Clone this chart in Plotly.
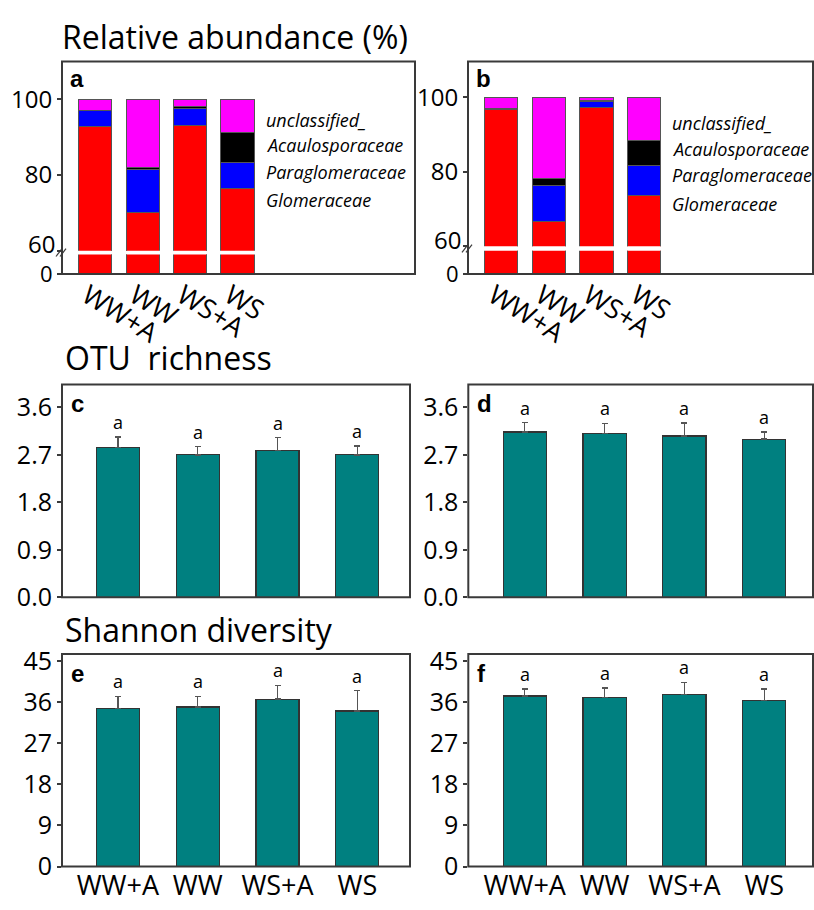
import plotly.graph_objects as go

W, H = 814, 910

# ---------------- data ----------------
groups = ["WW+A", "WW", "WS+A", "WS"]
families = ["Glomeraceae", "Paraglomeraceae", "Acaulosporaceae", "unclassified_"]
fam_colors = ["#FF0000", "#0000FF", "#000000", "#FF00FF"]

# relative abundance (%) panel a
abund_a_glom = [92.8, 70.2, 93.1, 76.5]
abund_a_para = [4.3, 11.3, 4.6, 6.8]
abund_a_acau = [0.0, 0.6, 0.5, 7.8]
abund_a_uncl = [2.9, 17.9, 1.8, 8.9]
# relative abundance (%) panel b
abund_b_glom = [96.8, 66.5, 97.3, 73.5]
abund_b_para = [0.0, 9.8, 1.5, 8.2]
abund_b_acau = [0.3, 2.0, 0.2, 6.7]
abund_b_uncl = [2.9, 21.7, 1.0, 11.6]

# OTU richness
otu_c_mean = [2.84, 2.70, 2.78, 2.70]
otu_c_err = [0.20, 0.155, 0.245, 0.165]
otu_d_mean = [3.13, 3.105, 3.057, 2.996]
otu_d_err = [0.18, 0.19, 0.25, 0.135]
otu_letters_c = ["a", "a", "a", "a"]
otu_letters_d = ["a", "a", "a", "a"]

# Shannon diversity
sh_e_mean = [34.7, 35.0, 36.7, 34.1]
sh_e_err = [2.6, 2.3, 3.0, 4.5]
sh_f_mean = [37.4, 37.1, 37.7, 36.4]
sh_f_err = [1.5, 2.0, 2.7, 2.5]
sh_letters_e = ["a", "a", "a", "a"]
sh_letters_f = ["a", "a", "a", "a"]

otu_ticks = [0, 0.9, 1.8, 2.7, 3.6]
sh_ticks = [0, 9, 18, 27, 36, 45]
abund_ticks_upper = [60, 80, 100]
abund_ticktext_upper = ["", "80", "100"]   # "60" is written separately, just above the break
abund_break_label = "60"
abund_ticks_lower = [0]

# ---------------- helpers ----------------
def fx(p):
    return p / W

def fy(p):
    return 1 - p / H

FONT = "Open Sans"
FRAME = "#3a3a3a"
TEAL = "#008080"

fig = go.Figure()

def axis_common(**kw):
    d = dict(showgrid=False, zeroline=False, showline=False,
             tickfont=dict(family=FONT, size=25, color="black"),
             ticks="outside", ticklen=4, tickcolor=FRAME, tickwidth=1.5)
    d.update(kw)
    return d

layout_axes = {}

def add_axes(n, xdom, ydom, xrange_, yrange_, xkw=None, ykw=None):
    xname = "xaxis" if n == 1 else f"xaxis{n}"
    yname = "yaxis" if n == 1 else f"yaxis{n}"
    ax = axis_common(domain=xdom, range=xrange_, anchor="y" if n == 1 else f"y{n}",
                     ticks="")
    ay = axis_common(domain=ydom, range=yrange_, anchor="x" if n == 1 else f"x{n}")
    if xkw:
        ax.update(xkw)
    if ykw:
        ay.update(ykw)
    layout_axes[xname] = ax
    layout_axes[yname] = ay

def ref(n):
    return ("x", "y") if n == 1 else (f"x{n}", f"y{n}")

shapes = []
annotations = []

def frame(x0, y0, x1, y1):
    shapes.append(dict(type="rect", xref="paper", yref="paper",
                       x0=fx(x0), x1=fx(x1), y0=fy(y1), y1=fy(y0),
                       line=dict(color=FRAME, width=2), fillcolor="rgba(0,0,0,0)", layer="above"))

def panel_letter(txt, x, y):
    annotations.append(dict(text=f"<b>{txt}</b>", xref="paper", yref="paper",
                            x=fx(x), y=fy(y), xanchor="left", yanchor="middle",
                            showarrow=False, font=dict(family="Liberation Sans", size=24, color="black")))

def title(txt, x, y):
    annotations.append(dict(text=txt, xref="paper", yref="paper",
                            x=fx(x), y=fy(y), xanchor="left", yanchor="middle",
                            showarrow=False, font=dict(family=FONT, size=32, color="black")))

def break_marks(x, y):
    for dx in (-3, 1):
        shapes.append(dict(type="line", xref="paper", yref="paper",
                           x0=fx(x + dx - 3), y0=fy(y + 4), x1=fx(x + dx + 3), y1=fy(y - 4),
                           line=dict(color=FRAME, width=1.2), layer="above"))

# ---------------- stacked panels a, b ----------------
def stacked_panel(n_up, n_lo, series, x0, x1, top, y60, gap_bot, bottom, xr, yr_top, letter):
    # upper
    add_axes(n_up, [fx(x0), fx(x1)], [fy(y60), fy(top)], xr, [60, yr_top],
             xkw=dict(showticklabels=False),
             ykw=dict(tickvals=abund_ticks_upper, ticktext=abund_ticktext_upper,
                      tickfont=dict(family=FONT, size=24, color="black")))
    # lower
    add_axes(n_lo, [fx(x0), fx(x1)], [fy(bottom), fy(gap_bot)], xr, [0, 60],
             xkw=dict(tickangle=32, ticklabelshift=-8,
                      tickfont=dict(family=FONT, size=27, color="black")),
             ykw=dict(tickvals=abund_ticks_lower,
                      tickfont=dict(family=FONT, size=22, color="black")))
    for n in (n_up, n_lo):
        xa, ya = ref(n)
        for name, vals, col in zip(families, series, fam_colors):
            fig.add_trace(go.Bar(x=groups, y=vals, name=name, marker=dict(color=col,
                                 line=dict(color="#555555", width=1)),
                                 width=0.70, xaxis=xa, yaxis=ya, showlegend=False))
    frame(x0, top, x1, bottom)
    break_marks(x0, (y60 + gap_bot) / 2)
    panel_letter(letter, x0 + 6, top + 18)
    # "60" label sitting just above the axis break
    annotations.append(dict(text=abund_break_label, xref="paper", yref="paper",
                            x=fx(x0 - 5), y=fy(y60 - 7), xanchor="right", yanchor="middle",
                            showarrow=False, font=dict(family=FONT, size=24, color="black")))

stacked_panel(1, 2, [abund_a_glom, abund_a_para, abund_a_acau, abund_a_uncl],
              62, 415, 52, 247, 251, 271, [-0.70, 6.74], 110, "a")
stacked_panel(3, 4, [abund_b_glom, abund_b_para, abund_b_acau, abund_b_uncl],
              468, 813, 52, 242.4, 247, 271, [-0.70, 6.55], 109.6, "b")

# family labels (legend-like text)
fam_label_order = ["unclassified_", "Acaulosporaceae", "Paraglomeraceae", "Glomeraceae"]
for xs, ys in ((264, [112, 138, 166, 195]), (670, [115, 142, 169, 199])):
    for t, yy in zip(fam_label_order, ys):
        annotations.append(dict(text=f"<i>{t}</i>", xref="paper", yref="paper",
                                x=fx(xs), y=fy(yy), xanchor="left", yanchor="middle",
                                showarrow=False, font=dict(family=FONT, size=18, color="black")))

# ---------------- bar panels c-f ----------------
def bar_panel(n, mean, err, letters, x0, x1, top, bottom, xr, yr, tickvals, fmt, letter, show_x):
    add_axes(n, [fx(x0), fx(x1)], [fy(bottom), fy(top)], xr, yr,
             xkw=dict(showticklabels=show_x, tickfont=dict(family=FONT, size=27, color="black")),
             ykw=dict(tickvals=tickvals, tickformat=fmt))
    xa, ya = ref(n)
    fig.add_trace(go.Bar(x=groups, y=mean, width=0.54,
                         marker=dict(color=TEAL, line=dict(color="#333333", width=1.2)),
                         error_y=dict(type="data", array=err, arrayminus=[0] * len(err),
                                      symmetric=False, color="#555555", thickness=1.5, width=3),
                         xaxis=xa, yaxis=ya, showlegend=False))
    for g, m, e, L in zip(groups, mean, err, letters):
        annotations.append(dict(text=L, xref=xa, yref=ya, x=g, y=m + e, yanchor="bottom",
                                yshift=1, showarrow=False,
                                font=dict(family=FONT, size=18, color="black")))
    frame(x0, top, x1, bottom)
    panel_letter(letter, x0 + 7, top + 20)

bar_panel(5, otu_c_mean, otu_c_err, otu_letters_c, 62, 410, 385, 604.3,
          [-0.70, 3.66], [0, 4.03], otu_ticks, ".1f", "c", False)
bar_panel(6, otu_d_mean, otu_d_err, otu_letters_d, 468.3, 813, 385, 604.3,
          [-0.707, 3.61], [0, 4.03], otu_ticks, ".1f", "d", False)
bar_panel(7, sh_e_mean, sh_e_err, sh_letters_e, 62, 410, 662.7, 881.7,
          [-0.70, 3.66], [0, 46.6], sh_ticks, "d", "e", True)
bar_panel(8, sh_f_mean, sh_f_err, sh_letters_f, 468.3, 813, 662.7, 881.7,
          [-0.707, 3.61], [0, 46.6], sh_ticks, "d", "f", True)

title("Relative abundance (%)", 60, 26)
title("OTU\u00a0 richness", 63, 357)
title("Shannon diversity", 63, 637)

fig.update_layout(width=W, height=H, margin=dict(l=0, r=0, t=0, b=0),
                  paper_bgcolor="white", plot_bgcolor="white",
                  barmode="stack", bargap=0.3, showlegend=False,
                  shapes=shapes, annotations=annotations, **layout_axes)

fig.write_html("out.html")
